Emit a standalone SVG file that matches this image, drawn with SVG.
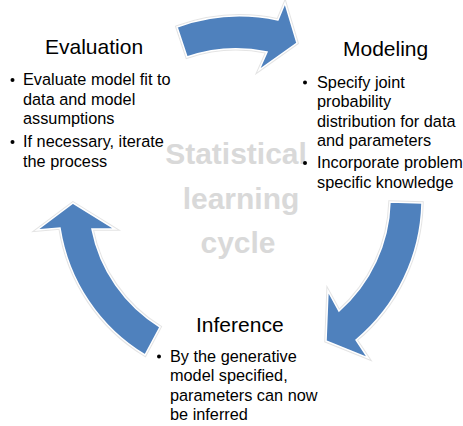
<svg xmlns="http://www.w3.org/2000/svg" width="463" height="426" viewBox="0 0 463 426">
  <style>
    .arrow { fill: #4F81BD; stroke: #ffffff; stroke-width: 1.5; stroke-linejoin: miter; }
    .halo { fill: none; stroke: #e4e4e4; stroke-width: 3.5; stroke-linejoin: miter; }
    .title { font-family: "Liberation Sans", Arial, sans-serif; font-size: 21px; fill: #000; }
    .body { font-family: "Liberation Sans", Arial, sans-serif; font-size: 16.3px; fill: #000; }
    .mark { font-family: "Liberation Sans", Arial, sans-serif; font-size: 30px; font-weight: bold; fill: #D9D9D9; text-anchor: middle; }
    .dot { fill: #000; }
  </style>
  <defs>
    <path id="arrow-top" d="M177,27 A184,184 0 0 1 278,20 L285,3 L297,43 L259,70 L267,52 A151,151 0 0 0 187,57 Z"/>
    <path id="arrow-right" d="M422,203 A184,184 0 0 1 356,340 L368,358 L326,341 L328,291 L339,311 A151,151 0 0 0 390,202 Z"/>
    <path id="arrow-left" d="M145,355 A181,181 0 0 1 60,228 L37,230 L73,203 L115,229 L92,229 A149,149 0 0 0 160,327 Z"/>
  </defs>

  <rect width="463" height="426" fill="#ffffff"/>

  <!-- centre caption -->
  <g id="caption">
    <text class="mark" x="236" y="164">Statistical</text>
    <text class="mark" x="241" y="209">learning</text>
    <text class="mark" x="238" y="253">cycle</text>
  </g>

  <!-- curved block arrows linking the stages -->
  <g id="connectors">
    <use href="#arrow-top" class="halo"/>
    <use href="#arrow-right" class="halo"/>
    <use href="#arrow-left" class="halo"/>
    <use href="#arrow-top" class="arrow"/>
    <use href="#arrow-right" class="arrow"/>
    <use href="#arrow-left" class="arrow"/>
  </g>

  <g id="evaluation">
    <text class="title" x="45" y="54">Evaluation</text>
    <circle class="dot" cx="12.5" cy="80" r="2"/>
    <text class="body" x="23" y="85">Evaluate model fit to</text>
    <text class="body" x="23" y="104.5">data and model</text>
    <text class="body" x="23" y="124">assumptions</text>
    <circle class="dot" cx="12.5" cy="142" r="2"/>
    <text class="body" x="23" y="147">If necessary, iterate</text>
    <text class="body" x="23" y="166.5">the process</text>
  </g>

  <g id="modeling">
    <text class="title" x="343" y="56">Modeling</text>
    <circle class="dot" cx="305" cy="82.5" r="2"/>
    <text class="body" x="317" y="87.5">Specify joint</text>
    <text class="body" x="317" y="107">probability</text>
    <text class="body" x="317" y="126.5">distribution for data</text>
    <text class="body" x="317" y="146">and parameters</text>
    <circle class="dot" cx="305" cy="163" r="2"/>
    <text class="body" x="317" y="168">Incorporate problem</text>
    <text class="body" x="317" y="187.5">specific knowledge</text>
  </g>

  <g id="inference">
    <text class="title" x="196" y="332">Inference</text>
    <circle class="dot" cx="159" cy="356.5" r="2"/>
    <text class="body" x="170" y="361.5">By the generative</text>
    <text class="body" x="170" y="381">model specified,</text>
    <text class="body" x="170" y="400.5">parameters can now</text>
    <text class="body" x="170" y="420">be inferred</text>
  </g>
</svg>
